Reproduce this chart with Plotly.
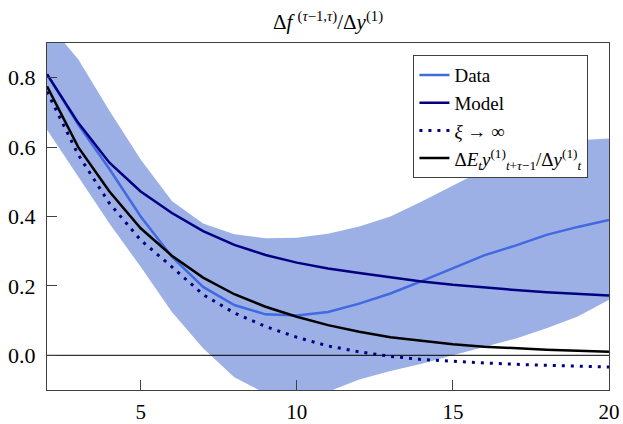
import plotly.graph_objects as go

# Horizon (tau) and impulse responses
horizon = list(range(2, 21))

data_irf = [0.81, 0.665, 0.537, 0.40, 0.284, 0.197, 0.145, 0.118, 0.115, 0.125,
            0.149, 0.178, 0.214, 0.252, 0.288, 0.316, 0.347, 0.37, 0.39]
model_irf = [0.81, 0.67, 0.555, 0.472, 0.41, 0.358, 0.318, 0.289, 0.267, 0.25,
             0.237, 0.224, 0.213, 0.203, 0.195, 0.188, 0.182, 0.177, 0.172]
xi_inf_irf = [0.76, 0.578, 0.438, 0.332, 0.255, 0.175, 0.122, 0.083, 0.052, 0.027,
              0.01, -0.003, -0.012, -0.018, -0.022, -0.026, -0.029, -0.032, -0.034]
expect_irf = [0.775, 0.60, 0.472, 0.366, 0.287, 0.224, 0.176, 0.14, 0.111, 0.087,
              0.068, 0.052, 0.042, 0.032, 0.025, 0.02, 0.016, 0.013, 0.010]
band_upper = [0.96, 0.853, 0.705, 0.564, 0.445, 0.38, 0.349, 0.337, 0.339, 0.35,
              0.371, 0.40, 0.443, 0.49, 0.535, 0.575, 0.605, 0.62, 0.625]
band_lower = [0.65, 0.515, 0.38, 0.255, 0.125, 0.02, -0.063, -0.11, -0.125, -0.105,
              -0.07, -0.045, -0.024, 0.0, 0.024, 0.048, 0.078, 0.112, 0.16]

x_ticks = [5, 10, 15, 20]
y_ticks = [0.0, 0.2, 0.4, 0.6, 0.8]

FONT = "Liberation Serif"
BAND = "rgb(156,176,230)"
DATA_BLUE = "rgb(65,105,225)"
NAVY = "rgb(0,0,128)"

fig = go.Figure()

# Confidence band
fig.add_trace(go.Scatter(x=horizon, y=band_lower, mode="lines",
                         line=dict(width=0, color=BAND), showlegend=False,
                         hoverinfo="skip"))
fig.add_trace(go.Scatter(x=horizon, y=band_upper, mode="lines", fill="tonexty",
                         fillcolor=BAND, line=dict(width=0, color=BAND),
                         showlegend=False, hoverinfo="skip"))

# Zero reference line
fig.add_trace(go.Scatter(x=[horizon[0], horizon[-1]], y=[0, 0], mode="lines",
                         line=dict(width=1, color="black"), showlegend=False,
                         hoverinfo="skip"))

fig.add_trace(go.Scatter(x=horizon, y=data_irf, mode="lines", name="Data",
                         line=dict(width=2.5, color=DATA_BLUE)))
fig.add_trace(go.Scatter(x=horizon, y=model_irf, mode="lines", name="Model",
                         line=dict(width=2.5, color=NAVY)))
fig.add_trace(go.Scatter(x=horizon, y=xi_inf_irf, mode="lines",
                         name="<i>ξ</i> → ∞",
                         line=dict(width=3, color=NAVY, dash="3px,6px")))
fig.add_trace(go.Scatter(x=horizon, y=expect_irf, mode="lines",
                         name="Δ<i>E<sub>t</sub>y</i><sup>(1)</sup><sub><i>t</i>+<i>τ</i>−1</sub>"
                              "/Δ<i>y</i><sup>(1)</sup><sub><i>t</i></sub>",
                         line=dict(width=2.5, color="black")))

axis_common = dict(showline=True, mirror=True, linecolor="#404040", linewidth=1.2,
                   ticks="inside", ticklen=10, tickwidth=1.2, tickcolor="#404040",
                   showgrid=False, zeroline=False, automargin=False)

fig.update_layout(
    width=623, height=424,
    margin=dict(l=47, r=14, t=43, b=34),
    paper_bgcolor="white", plot_bgcolor="white",
    font=dict(family=FONT, color="black"),
    title=dict(text="Δ<i>f</i> <sup>(<i>τ</i>−1,<i>τ</i>)</sup>/Δ<i>y</i><sup>(1)</sup>",
               x=0.5, xref="paper", y=1 - 22 / 424, yref="container",
               xanchor="center", yanchor="middle",
               font=dict(family=FONT, size=21, color="black")),
    xaxis=dict(range=[2, 20], tickvals=x_ticks, ticklabelstandoff=3,
               tickfont=dict(family=FONT, size=21, color="black"), **axis_common),
    yaxis=dict(range=[-0.1, 0.9], tickvals=y_ticks, tickformat=".1f",
               ticklabelstandoff=6,
               tickfont=dict(family=FONT, size=22, color="black"), **axis_common),
    legend=dict(x=0.652, y=0.965, xanchor="left", yanchor="top",
                traceorder="normal",
                bgcolor="white", bordercolor="#404040", borderwidth=1,
                font=dict(family=FONT, size=19, color="black"),
                itemwidth=30),
)

fig.write_html("out.html")
